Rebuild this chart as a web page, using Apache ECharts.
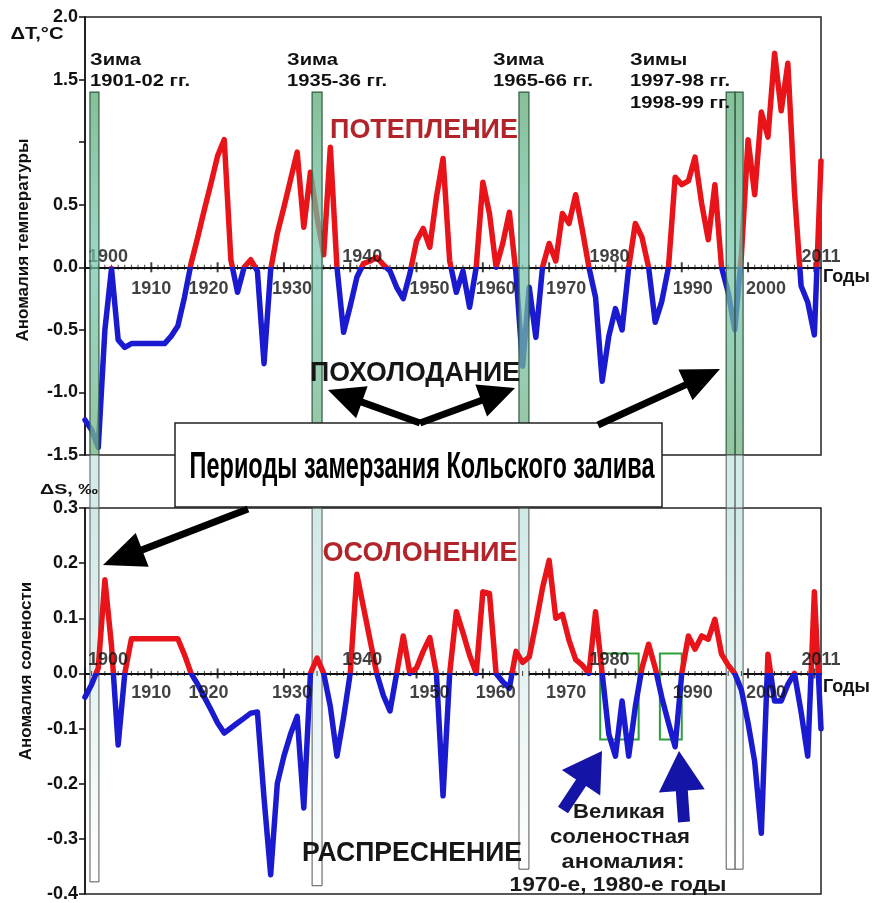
<!DOCTYPE html>
<html><head><meta charset="utf-8">
<script src="https://cdn.jsdelivr.net/npm/echarts@6/dist/echarts.min.js"></script>
<style>html,body{margin:0;padding:0;background:#fff}#c{width:873px;height:903px}</style>
</head><body><div id="c"></div>
<script>
// ---------- DATA ----------
const firstYear = 1900;
// Temperature anomaly, °C, 1900..2011
const tempAnomaly = [
  -1.22, -1.30, -1.44, -0.50, -0.01, -0.58, -0.64, -0.61, -0.61, -0.61,
  -0.61, -0.61, -0.61, -0.55, -0.47, -0.24, 0.03, 0.24, 0.46, 0.67,
  0.89, 1.02, 0.06, -0.20, 0.00, 0.06, -0.03, -0.77, -0.02, 0.27,
  0.48, 0.70, 0.92, 0.32, 0.76, 0.40, 0.10, 0.96, 0.00, -0.52,
  -0.31, -0.08, 0.03, 0.05, 0.08, 0.02, -0.03, -0.16, -0.25, -0.05,
  0.21, 0.31, 0.16, 0.56, 0.87, 0.05, -0.20, -0.03, -0.32, 0.00,
  0.68, 0.43, 0.00, 0.19, 0.44, -0.05, -0.79, -0.16, -0.56, 0.00,
  0.19, 0.05, 0.43, 0.35, 0.58, 0.30, 0.00, -0.24, -0.91, -0.55,
  -0.33, -0.50, 0.00, 0.35, 0.24, 0.00, -0.44, -0.27, 0.00, 0.72,
  0.66, 0.69, 0.88, 0.51, 0.22, 0.66, 0.00, -0.20, -0.50, 0.10,
  1.02, 0.58, 1.24, 1.04, 1.71, 1.25, 1.63, 0.60, -0.15, -0.28,
  -0.54, 0.85
];
// Salinity anomaly, ‰, 1900..2011
const salAnomaly = [
  -0.043, -0.02, 0.01, 0.17, 0.05, -0.13, 0.0, 0.063, 0.063, 0.063,
  0.063, 0.063, 0.063, 0.063, 0.063, 0.034, 0.0, -0.02, -0.043, -0.066,
  -0.09, -0.108, -0.099, -0.09, -0.081, -0.072, -0.07, -0.226, -0.365, -0.2,
  -0.15, -0.11, -0.078, -0.244, 0.0, 0.028, 0.0, -0.06, -0.15, -0.08,
  0.0, 0.18, 0.12, 0.06, 0.0, -0.04, -0.068, 0.0, 0.068, 0.0,
  0.01, 0.04, 0.065, 0.0, -0.222, 0.0, 0.112, 0.074, 0.033, 0.0,
  0.148, 0.145, 0.0, -0.015, -0.027, 0.04, 0.02, 0.03, 0.09, 0.155,
  0.205, 0.1, 0.107, 0.06, 0.025, 0.015, 0.0, 0.112, 0.0, -0.11,
  -0.15, -0.05, -0.15, -0.06, 0.01, 0.053, 0.01, -0.044, -0.09, -0.133,
  0.0, 0.068, 0.044, 0.068, 0.062, 0.098, 0.035, 0.015, 0.0, -0.03,
  -0.09, -0.16, -0.29, 0.035, -0.05, -0.05, -0.02, 0.0, -0.07, -0.15,
  0.148, -0.1
];
// Freeze periods of the Kola Bay (year extents of the shaded bars)
const freezeStart = [1900.75, 1934.25, 1965.45, 1996.7, 1998.05];
const freezeEnd   = [1902.1, 1935.75, 1966.95, 1998.05, 1999.25];
const freezeTopT  = [1.4, 1.4, 1.4, 1.4, 1.4];                 // top, temperature units
const freezeBottomS = [-0.378, -0.385, -0.355, -0.355, -0.355]; // bottom, salinity units
const winterLabels = [['Зима', '1901-02 гг.'], ['Зима', '1935-36 гг.'], ['Зима', '1965-66 гг.'], ['Зимы', '1997-98 гг.', '1998-99 гг.']];
// Great Salinity Anomaly boxes
const gsaStart = [1977.7, 1986.7];
const gsaEnd = [1983.5, 1990.0];
const gsaTop = 0.036, gsaBottom = -0.12;
// tick labels
const yearLabelsBelow = [1910, 1920, 1930, 1950, 1960, 1970, 1990, 2000];
const yearLabelsAbove = [1900, 1940, 1980, 2011];
const hiddenTempLabels = [1.0];

// ---------- STYLE / LAYOUT ----------
const FONT = '"Liberation Sans", Arial, Helvetica, sans-serif';
const RED = '#e8141a', BLUE = '#1a1ad0', DARKRED = '#b3242a';
const G1 = {left: 85, top: 17, width: 736, height: 438};
const G2 = {left: 85, top: 508, width: 736, height: 389};
const GAP = G2.top - (G1.top + G1.height);
const labelOffset = {1900: 23, 1940: 12, 1980: -6, 2011: 0, 1910: 0, 1920: -9, 1930: 8, 1950: 13, 1960: 13, 1970: 17, 1990: 11, 2000: 18};
const LABEL_FONT = {fontFamily: FONT, fontWeight: 'bold', fontSize: 18, color: '#111'};

function xAxisOpt(gi) {
  return {type: 'value', gridIndex: gi, min: 1900, max: 2011, interval: 10, position: 'bottom',
    splitLine: {show: false},
    axisLine: {show: true, onZero: true, lineStyle: {color: '#111', width: 2}},
    axisTick: {show: false},
    axisLabel: {show: false}};
}

function yAxisOpt(gi, min, max, interval, hidden) {
  return {type: 'value', gridIndex: gi, min, max, interval,
    axisLine: {show: true, onZero: false, lineStyle: {color: '#111', width: 1.5}},
    axisTick: {show: true, length: 6, lineStyle: {color: '#111', width: 1.5}},
    axisLabel: Object.assign({margin: 7,
      formatter: v => hidden.some(h => Math.abs(h - v) < 1e-9) ? '' : (Math.abs(v) < 1e-9 ? '0.0' : v.toFixed(1))}, LABEL_FONT),
    splitLine: {show: false}};
}

const greenFill = {type: 'linear', x: 0, y: 0, x2: 0, y2: 1, colorStops: [
  {offset: 0, color: 'rgba(105,175,125,0.80)'}, {offset: 0.45, color: 'rgba(115,195,175,0.70)'},
  {offset: 1, color: 'rgba(120,180,135,0.78)'}]};
const paleFill = {type: 'linear', x: 0, y: 0, x2: 0, y2: 1, colorStops: [
  {offset: 0, color: '#cfe9e7'}, {offset: 1, color: '#ffffff'}]};

function topBarRender(params, api) {
  const s = api.value(0), e = api.value(1), t = api.value(2);
  const p0 = api.coord([s, t]), p1 = api.coord([e, t]);
  const cs = params.coordSys;
  const gb = cs.y + cs.height;
  return {type: 'group', children: [
    {type: 'rect', shape: {x: p0[0], y: p0[1], width: p1[0] - p0[0], height: gb - p0[1]},
      style: {fill: greenFill, stroke: '#2d5d3f', lineWidth: 1.2}},
    {type: 'rect', shape: {x: p0[0], y: gb, width: p1[0] - p0[0], height: GAP},
      style: {fill: '#d3ecea', stroke: '#555', lineWidth: 1}}
  ]};
}
function bottomBarRender(params, api) {
  const s = api.value(0), e = api.value(1), b = api.value(2);
  const p0 = api.coord([s, b]), p1 = api.coord([e, b]);
  const cs = params.coordSys;
  return {type: 'rect', shape: {x: p0[0], y: cs.y, width: p1[0] - p0[0], height: p0[1] - cs.y},
    style: {fill: paleFill, stroke: '#555', lineWidth: 1}};
}

// axis tick marks (crossing the zero line) and year labels along it
const tickYears = tempAnomaly.map((v, i) => firstYear + i).filter(y => y <= 2010);
function tickSeries(xi, yi) {
  return {type: 'scatter', xAxisIndex: xi, yAxisIndex: yi, z: 2, silent: true, symbol: 'rect',
    itemStyle: {color: '#111'}, clip: false,
    data: tickYears.map(y => ({value: [y, 0], symbolSize: (y % 10 === 0) ? [2, 10] : [1, 5]}))};
}
function yearLabelSeries(xi, yi, years, pos, dist) {
  return {type: 'scatter', xAxisIndex: xi, yAxisIndex: yi, z: 4, silent: true, symbolSize: 1,
    itemStyle: {color: 'rgba(0,0,0,0)'}, clip: false,
    label: Object.assign({show: true, position: pos, distance: dist, formatter: p => String(p.value[0])}, LABEL_FONT),
    data: years.map(y => ({value: [y, 0], label: {offset: [labelOffset[y], 0]}}))};
}

// ---------- annotations ----------
const mctx = document.createElement('canvas').getContext('2d');
function measure(str, font) { mctx.font = font; return mctx.measureText(str).width; }
function fitText(str, font, x, y, w, color, align) {
  return {type: 'text', x, y, scaleX: w / measure(str, font), z: 120,
    style: {text: str, font, fill: color, align: align || 'center', verticalAlign: 'middle'}};
}
function plainText(str, font, x, y, color, align, rot) {
  return {type: 'text', x, y, rotation: rot || 0, z: 120,
    style: {text: str, font, fill: color, align: align || 'left', verticalAlign: 'middle'}};
}
function arrow(tail, tip, sw, hl, hw, color) {
  const dx = tip[0] - tail[0], dy = tip[1] - tail[1], L = Math.hypot(dx, dy);
  const ux = dx / L, uy = dy / L, nx = -uy, ny = ux;
  const bx = tip[0] - ux * hl, by = tip[1] - uy * hl;
  return {type: 'polygon', z: 130, shape: {points: [
    [tail[0] + nx * sw / 2, tail[1] + ny * sw / 2], [bx + nx * sw / 2, by + ny * sw / 2],
    [bx + nx * hw / 2, by + ny * hw / 2], tip, [bx - nx * hw / 2, by - ny * hw / 2],
    [bx - nx * sw / 2, by - ny * sw / 2], [tail[0] - nx * sw / 2, tail[1] - ny * sw / 2]]},
    style: {fill: color}};
}

const winterFont = 'bold 17px ' + FONT;
const winterScale = 100 / measure('1901-02 гг.', winterFont);
const winterX = [90, 287, 493, 630];
const winterEls = [];
winterLabels.forEach((lines, i) => {
  lines.forEach((ln, j) => {
    winterEls.push({type: 'text', x: winterX[i], y: 60 + j * 21.5, scaleX: winterScale, z: 120,
      style: {text: ln, font: winterFont, fill: '#111', align: 'left', verticalAlign: 'middle'}});
  });
});

const bigFont = 'bold 28px ' + FONT;
const graphics = [
  plainText('Аномалия температуры', 'bold 17px ' + FONT, 23, 240, '#111', 'center', Math.PI / 2),
  plainText('Аномалия солености', 'bold 17px ' + FONT, 26, 671, '#111', 'center', Math.PI / 2),
  fitText('ΔT,°C', 'bold 16px ' + FONT, 37, 35, 53, '#111'),
  fitText('ΔS, ‰', 'bold 15px ' + FONT, 69, 490, 58, '#111'),
  plainText('Годы', 'bold 18px ' + FONT, 823, 277, '#111', 'left'),
  plainText('Годы', 'bold 18px ' + FONT, 823, 687, '#111', 'left'),
  fitText('ПОТЕПЛЕНИЕ', bigFont, 424, 130, 188, DARKRED),
  fitText('ПОХОЛОДАНИЕ', bigFont, 415, 373, 210, '#161616'),
  fitText('ОСОЛОНЕНИЕ', bigFont, 420, 553, 195, DARKRED),
  fitText('РАСПРЕСНЕНИЕ', bigFont, 412, 853, 220, '#161616'),
  {type: 'rect', z: 110, shape: {x: 175, y: 423, width: 487, height: 84},
    style: {fill: '#fff', stroke: '#222', lineWidth: 1.5}},
  fitText('Периоды замерзания Кольского залива', 'bold 36px "Liberation Sans Narrow", ' + FONT, 422, 468, 465, '#000'),
  arrow([420, 423], [328, 390], 7, 36, 34, '#000'),
  arrow([420, 423], [515, 388], 7, 36, 34, '#000'),
  arrow([598, 425], [720, 369], 7, 38, 34, '#000'),
  arrow([248, 509], [103, 565], 7, 42, 36, '#000'),
  arrow([563, 810], [602, 751], 12, 38, 46, '#1414a6'),
  arrow([684, 822], [679, 751], 12, 40, 46, '#1414a6'),
  fitText('Великая', 'bold 21px ' + FONT, 619, 812, 92, '#1a1a1a'),
  fitText('соленостная', 'bold 21px ' + FONT, 620, 837, 140, '#1a1a1a'),
  fitText('аномалия:', 'bold 21px ' + FONT, 623, 862, 123, '#1a1a1a'),
  fitText('1970-е, 1980-е годы', 'bold 21px ' + FONT, 618, 885, 217, '#1a1a1a')
].concat(winterEls);

const topBars = freezeStart.map((s, i) => [s, freezeEnd[i], freezeTopT[i]]);
const bottomBars = freezeStart.map((s, i) => [s, freezeEnd[i], freezeBottomS[i]]);

const chart = echarts.init(document.getElementById('c'), null, {renderer: 'canvas'});
chart.setOption({
  animation: false,
  backgroundColor: '#fff',
  grid: [
    Object.assign({show: true, borderColor: '#222', borderWidth: 1.5, backgroundColor: 'transparent'}, G1),
    Object.assign({show: true, borderColor: '#222', borderWidth: 1.5, backgroundColor: 'transparent'}, G2)
  ],
  xAxis: [xAxisOpt(0), xAxisOpt(1)],
  yAxis: [yAxisOpt(0, -1.5, 2, 0.5, hiddenTempLabels), yAxisOpt(1, -0.4, 0.3, 0.1, [])],
  visualMap: [
    {type: 'piecewise', show: false, seriesIndex: 0, dimension: 1,
      pieces: [{min: -5, max: 0, color: BLUE}, {min: 0, max: 5, color: RED}]},
    {type: 'piecewise', show: false, seriesIndex: 1, dimension: 1,
      pieces: [{min: -1, max: 0, color: BLUE}, {min: 0, max: 1, color: RED}]}
  ],
  series: [
    {type: 'line', name: 'ΔT', xAxisIndex: 0, yAxisIndex: 0, z: 3, symbol: 'none',
      data: tempAnomaly.map((v, i) => [firstYear + i, v]),
      lineStyle: {width: 5.5, join: 'round', cap: 'round'}},
    {type: 'line', name: 'ΔS', xAxisIndex: 1, yAxisIndex: 1, z: 3, symbol: 'none',
      data: salAnomaly.map((v, i) => [firstYear + i, v]),
      lineStyle: {width: 5.5, join: 'round', cap: 'round'},
      markArea: {silent: true, itemStyle: {color: 'rgba(0,0,0,0)', borderColor: '#2e9e3a', borderWidth: 2},
        data: gsaStart.map((s, i) => [{xAxis: s, yAxis: gsaTop}, {xAxis: gsaEnd[i], yAxis: gsaBottom}])}},
    {type: 'custom', xAxisIndex: 0, yAxisIndex: 0, z: 5, clip: false, silent: true,
      encode: {x: [0, 1], y: 2}, data: topBars, renderItem: topBarRender},
    {type: 'custom', xAxisIndex: 1, yAxisIndex: 1, z: 1, clip: false, silent: true,
      encode: {x: [0, 1], y: 2}, data: bottomBars, renderItem: bottomBarRender},
    tickSeries(0, 0), tickSeries(1, 1),
    yearLabelSeries(0, 0, yearLabelsBelow, 'bottom', 12),
    yearLabelSeries(0, 0, yearLabelsAbove, 'top', 1),
    yearLabelSeries(1, 1, yearLabelsBelow, 'bottom', 10),
    yearLabelSeries(1, 1, yearLabelsAbove, 'top', 4)
  ],
  graphic: {elements: graphics}
});
</script>
</body></html>
